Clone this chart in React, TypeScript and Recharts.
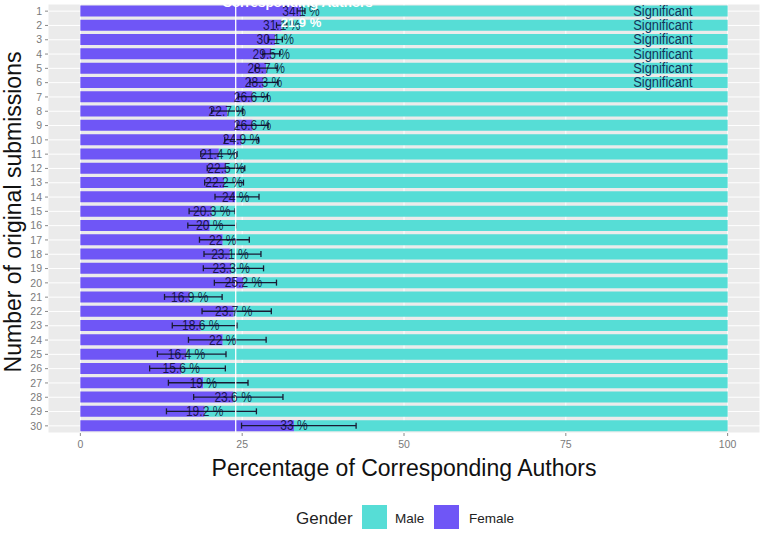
import React from "react";
import {
  BarChart,
  Bar,
  XAxis,
  YAxis,
  CartesianGrid,
  ErrorBar,
  LabelList,
  ReferenceLine,
} from "recharts";

const submissions = [
  "1", "2", "3", "4", "5", "6", "7", "8", "9", "10",
  "11", "12", "13", "14", "15", "16", "17", "18", "19", "20",
  "21", "22", "23", "24", "25", "26", "27", "28", "29", "30",
];
const femalePct = [
  34.1, 31.1, 30.1, 29.5, 28.7, 28.3, 26.6, 22.7, 26.6, 24.9,
  21.4, 22.5, 22.2, 24, 20.3, 20, 22, 23.1, 23.3, 25.2,
  16.9, 23.7, 18.6, 22, 16.4, 15.6, 19, 23.6, 19.2, 33,
];
const ciLow = [
  33.5, 30.3, 29.0, 28.2, 27.0, 26.2, 24.4, 20.3, 24.2, 22.3,
  18.6, 19.6, 19.2, 20.8, 16.8, 16.6, 18.4, 19.1, 19.0, 20.7,
  13.0, 18.8, 14.2, 16.7, 11.9, 10.7, 13.6, 17.5, 13.3, 24.9,
];
const ciHigh = [
  34.7, 31.9, 31.2, 30.8, 30.4, 30.5, 28.9, 25.1, 29.0, 27.5,
  24.2, 25.4, 25.2, 27.6, 23.9, 24.0, 26.1, 27.9, 28.3, 30.3,
  21.9, 29.5, 24.2, 28.7, 22.5, 22.4, 25.9, 31.3, 27.2, 42.6,
];
const significant = [
  true, true, true, true, true, true, false, false, false, false,
  false, false, false, false, false, false, false, false, false, false,
  false, false, false, false, false, false, false, false, false, false,
];
const xTicks = [0, 25, 50, 75, 100];
const parityLine = 24;
const sigLabelAt = 90;
const overallFemale = "21.9 %";
const legendTitle = "Gender";
const legendItems = ["Male", "Female"];

const FEMALE = "#6F56F6";
const MALE = "#56DDD6";

// error bars are attached to the stacked (top) male segment whose end value is 100
const data = submissions.map((n, i) => ({
  n,
  female: femalePct[i],
  male: +(100 - femalePct[i]).toFixed(1),
  err: [100 - ciLow[i], ciHigh[i] - 100],
  sig: significant[i],
}));

const getBox = (props: any) => {
  const vb = props.viewBox || {};
  return {
    x: vb.x ?? props.x,
    y: vb.y ?? props.y,
    width: vb.width ?? props.width,
    height: vb.height ?? props.height,
  };
};

const renderPct = (props: any) => {
  const v = props.value;
  if (v == null) return null;
  const { x, y, height } = getBox(props);
  const cx = x;
  const cy = y + height / 2;
  return (
    <text
      transform={`translate(${cx},${cy}) scale(0.86,1)`}
      textAnchor="middle"
      dominantBaseline="central"
      fontSize={14}
      fill="#05052a"
      fillOpacity={0.82}
    >
      {`${v} %`}
    </text>
  );
};

const renderSig = (props: any) => {
  const f = props.value;
  if (f == null) return null;
  const { x, y, width, height } = getBox(props);
  const cx = x + (width * (sigLabelAt - f)) / (100 - f);
  const cy = y + height / 2;
  return (
    <text
      transform={`translate(${cx},${cy}) scale(0.92,1)`}
      textAnchor="middle"
      dominantBaseline="central"
      fontSize={14}
      fill="#12345a"
    >
      Significant
    </text>
  );
};

const XTitle = () => (
  <text x={404} y={476} textAnchor="middle" fontSize={23} fill="#111">
    Percentage of Corresponding Authors
  </text>
);

const YTitle = () => (
  <text
    transform="translate(21,212) rotate(-90)"
    textAnchor="middle"
    fontSize={23}
    fill="#111"
  >
    Number of original submissions
  </text>
);

export default function App() {
  return (
    <div
      style={{
        position: "absolute",
        left: 0,
        top: 0,
        width: 763,
        height: 533,
        background: "#fff",
        fontFamily: '"Liberation Sans", Arial, sans-serif',
      }}
    >
      <BarChart
        width={763}
        height={533}
        data={data}
        layout="vertical"
        margin={{ top: 4, right: 3, bottom: 70, left: 0 }}
        barCategoryGap="10%"
      >
        <CartesianGrid fill="#EBEBEB" stroke="#FFFFFF" strokeWidth={1} />
        <XAxis
          type="number"
          domain={[-5, 105]}
          ticks={xTicks}
          allowDataOverflow
          height={30}
          axisLine={false}
          tickLine={{ stroke: "#8a8a8a" }}
          tickSize={3}
          tickMargin={5}
          tick={{ fontSize: 10.5, fill: "#7a7a7a" }}
          label={<XTitle />}
        />
        <YAxis
          type="category"
          dataKey="n"
          width={48}
          axisLine={false}
          tickLine={{ stroke: "#8a8a8a" }}
          tickSize={3}
          tickMargin={3}
          interval={0}
          tick={{ fontSize: 10.5, fill: "#7a7a7a" }}
          label={<YTitle />}
        />
        <Bar dataKey="female" stackId="g" fill={FEMALE} isAnimationActive={false} />
        <Bar dataKey="male" stackId="g" fill={MALE} isAnimationActive={false}>
          <ErrorBar
            dataKey="err"
            direction="x"
            width={3}
            stroke="#1a1a33"
            strokeWidth={1.3}
          />
          <LabelList dataKey="female" content={renderPct} />
          <LabelList
            dataKey={(d: any) => (d.sig ? d.female : null)}
            content={renderSig}
          />
        </Bar>
        <ReferenceLine x={parityLine} stroke="#FFFFFF" strokeWidth={1.3} />
      </BarChart>
      <svg
        width={763}
        height={533}
        style={{ position: "absolute", left: 0, top: 0, pointerEvents: "none" }}
      >
        <text
          x={297.5}
          y={6.5}
          textAnchor="middle"
          fontSize={13.4}
          fontWeight="bold"
          fill="#FFFFFF"
        >
          Corresponding Authors
        </text>
        <text
          x={301}
          y={27}
          textAnchor="middle"
          fontSize={13}
          fontWeight="bold"
          fill="#FFFFFF"
        >
          {overallFemale}
        </text>
        <text x={296} y={524} fontSize={17} fill="#222">
          {legendTitle}
        </text>
        <rect x={362} y={505} width={25} height={24} fill={MALE} />
        <text x={395} y={522.5} fontSize={13.5} fill="#222">
          {legendItems[0]}
        </text>
        <rect x={434} y={505} width={25} height={24} fill={FEMALE} />
        <text x={469} y={522.5} fontSize={13.5} fill="#222">
          {legendItems[1]}
        </text>
      </svg>
    </div>
  );
}
